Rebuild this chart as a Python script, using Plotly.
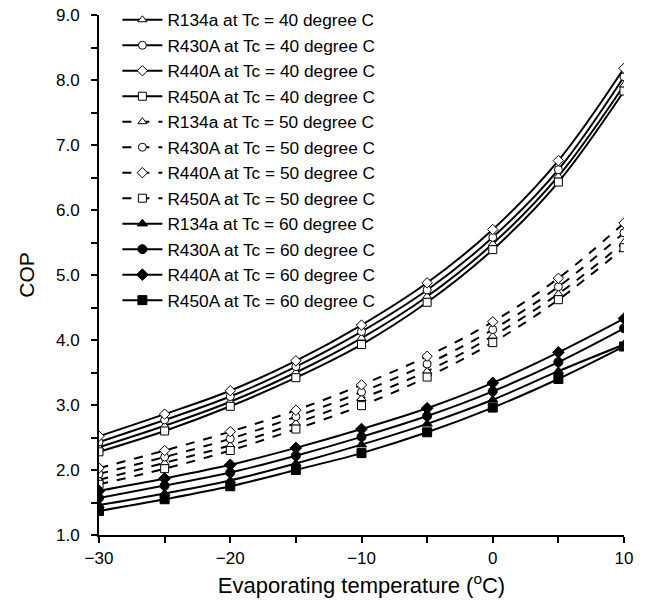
import plotly.graph_objects as go

evap_temp = [-30, -25, -20, -15, -10, -5, 0, 5, 10]

refrigerants = ["R134a", "R430A", "R440A", "R450A"]
cond_temps = [40, 50, 60]

# COP values [Tc][refrigerant]
cop = {
    40: {
        "R134a": [2.35, 2.68, 3.05, 3.50, 4.03, 4.67, 5.48, 6.52, 7.92],
        "R430A": [2.43, 2.77, 3.13, 3.59, 4.13, 4.77, 5.58, 6.62, 8.05],
        "R440A": [2.52, 2.86, 3.22, 3.68, 4.23, 4.88, 5.70, 6.76, 8.18],
        "R450A": [2.28, 2.60, 2.98, 3.42, 3.93, 4.58, 5.39, 6.43, 7.83],
    },
    50: {
        "R134a": [1.85, 2.11, 2.38, 2.72, 3.10, 3.52, 4.06, 4.71, 5.50],
        "R430A": [1.94, 2.20, 2.48, 2.82, 3.20, 3.63, 4.16, 4.82, 5.65],
        "R440A": [2.03, 2.30, 2.59, 2.92, 3.31, 3.75, 4.28, 4.95, 5.80],
        "R450A": [1.78, 2.02, 2.30, 2.63, 2.99, 3.43, 3.96, 4.62, 5.42],
    },
    60: {
        "R134a": [1.46, 1.64, 1.84, 2.10, 2.39, 2.71, 3.08, 3.52, 3.93],
        "R430A": [1.57, 1.76, 1.96, 2.22, 2.51, 2.83, 3.21, 3.66, 4.18],
        "R440A": [1.68, 1.87, 2.08, 2.34, 2.63, 2.95, 3.34, 3.81, 4.33],
        "R450A": [1.37, 1.55, 1.75, 2.00, 2.26, 2.58, 2.96, 3.40, 3.90],
    },
}

symbols = {"R134a": "triangle-up", "R430A": "circle", "R440A": "diamond", "R450A": "square"}

fig = go.Figure()
for tc in cond_temps:
    for r in refrigerants:
        filled = tc == 60
        fig.add_trace(go.Scatter(
            x=evap_temp,
            y=cop[tc][r],
            mode="lines+markers",
            name=f"{r} at Tc = {tc} degree C",
            line=dict(color="black", width=2, shape="spline",
                      dash="dash" if tc == 50 else "solid"),
            marker=dict(symbol=symbols[r],
                        size=9 if filled else 8,
                        color="black" if filled else "white",
                        line=dict(color="black", width=1)),
        ))

fig.update_layout(
    width=646, height=613,
    margin=dict(l=99, r=22, t=15, b=78, autoexpand=False),
    paper_bgcolor="white", plot_bgcolor="white",
    font=dict(family="Liberation Sans, Arial, sans-serif", color="black", size=17),
    showlegend=True,
    legend=dict(x=0.035, y=1.025, xanchor="left", yanchor="top",
                bgcolor="rgba(0,0,0,0)", font=dict(size=17.3),
                tracegroupgap=0, itemwidth=40, maxheight=1),
    xaxis=dict(range=[-30, 10], tickvals=[-30, -20, -10, 0, 10],
               showline=True, linecolor="black", linewidth=2,
               ticks="outside", tickcolor="black", ticklen=6, tickwidth=2,
               ticklabelstandoff=1, automargin=False,
               minor=dict(tickvals=[-25, -15, -5, 5], ticks="outside", ticklen=6,
                          tickwidth=2, tickcolor="black"),
               showgrid=False, zeroline=False,
               title=dict(text="Evaporating temperature (<sup>o</sup>C)", font=dict(size=22), standoff=10)),
    yaxis=dict(range=[1, 9], dtick=1, tickformat=".1f",
               showline=True, linecolor="black", linewidth=2,
               ticks="outside", tickcolor="black", ticklen=6, tickwidth=2,
               ticklabelstandoff=8, automargin=False,
               minor=dict(dtick=0.5, ticks="outside", ticklen=6, tickwidth=2, tickcolor="black"),
               showgrid=False, zeroline=False,
               title=dict(text="COP", font=dict(size=21), standoff=16)),
)

fig.write_html("out.html")
